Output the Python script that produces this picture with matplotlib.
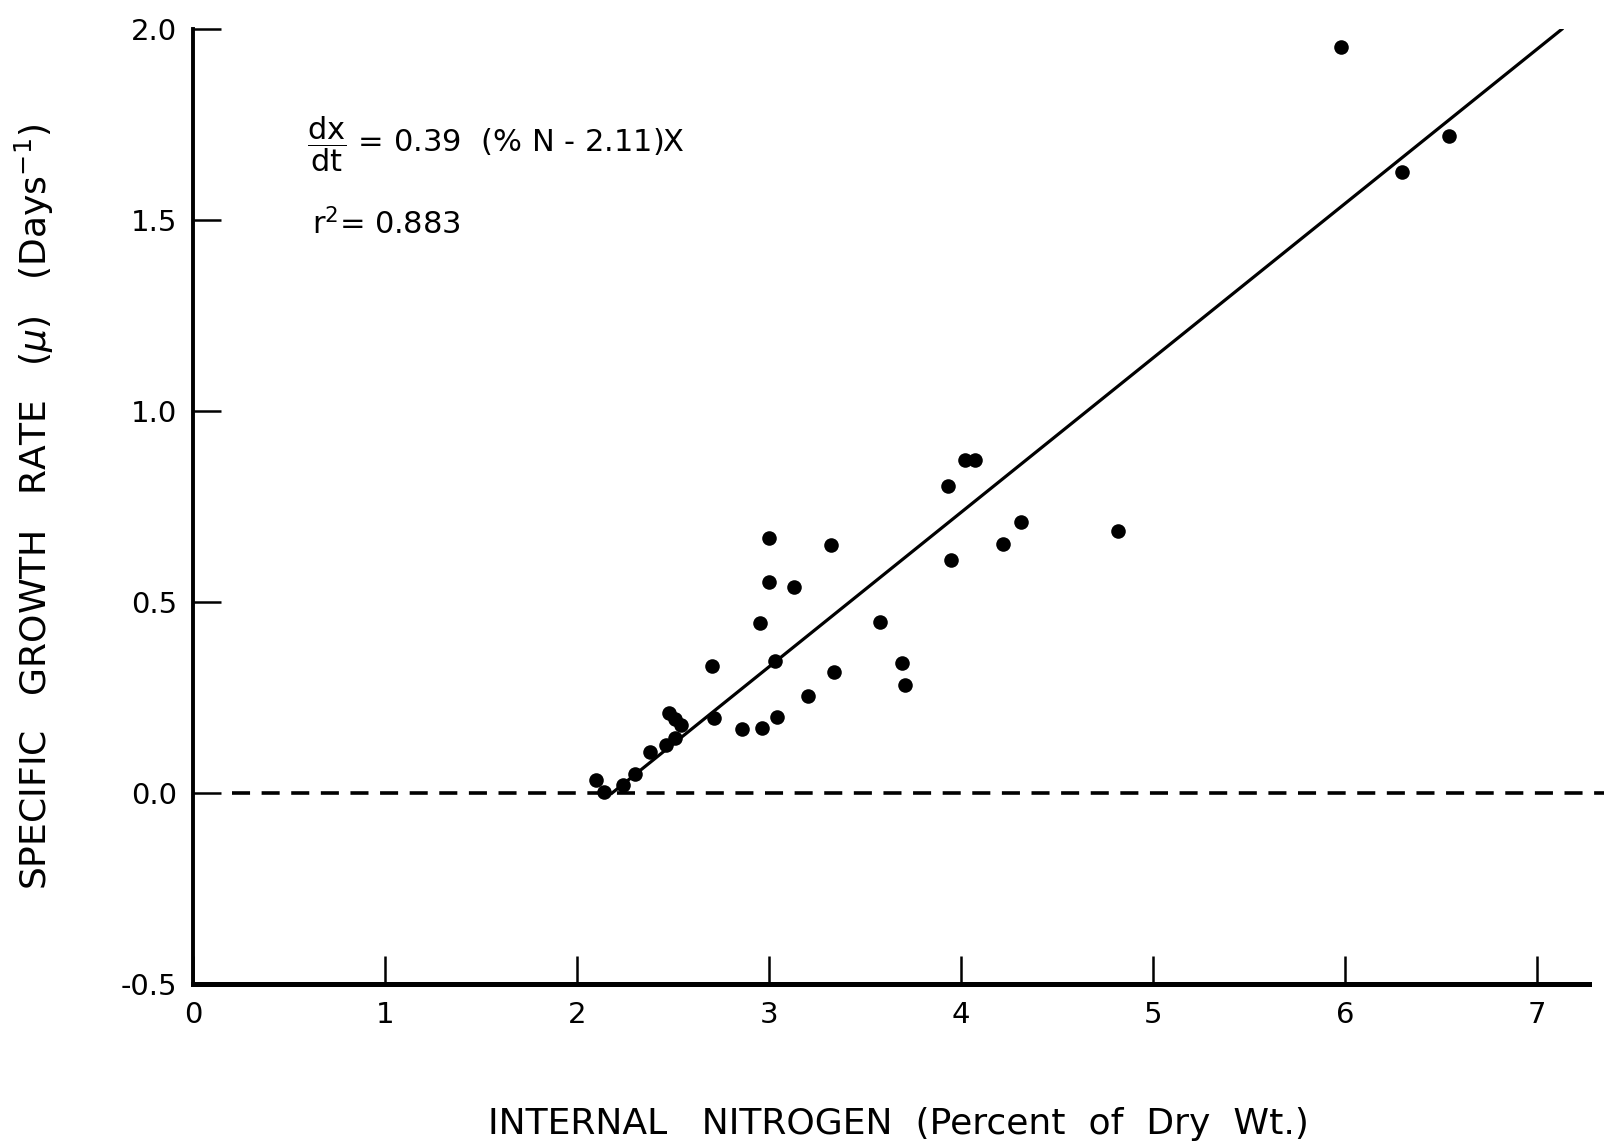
import matplotlib
matplotlib.use("Agg")
import matplotlib.pyplot as plt
import numpy as np

plt.rcParams['axes.unicode_minus'] = False

# internal nitrogen (% of dry weight) and specific growth rate (1/day)
nitrogen = [2.10, 2.14, 2.24, 2.30, 2.38, 2.46, 2.51, 2.48, 2.51, 2.54,
            2.70, 2.71, 2.86, 2.96, 3.04, 3.03, 2.95, 3.00, 3.00, 3.13,
            3.32, 3.20, 3.34, 3.58, 3.69, 3.71, 3.95, 3.93, 4.02, 4.07,
            4.31, 4.22, 4.82, 5.98, 6.30, 6.54]
growth = [0.035, 0.004, 0.022, 0.050, 0.109, 0.125, 0.144, 0.209, 0.194, 0.178,
          0.333, 0.196, 0.167, 0.170, 0.200, 0.347, 0.445, 0.552, 0.667, 0.539,
          0.650, 0.254, 0.318, 0.449, 0.342, 0.284, 0.611, 0.803, 0.873, 0.873,
          0.711, 0.653, 0.687, 1.953, 1.626, 1.721]

# fitted line, end points
fit_x = [2.18, 7.13]
fit_y = [0.0, 2.0]

x_ticks = [0, 1, 2, 3, 4, 5, 6, 7]
y_ticks = [-0.5, 0.0, 0.5, 1.0, 1.5, 2.0]
y_ticklabels = ["-0.5", "0.0", "0.5", "1.0", "1.5", "2.0"]

fig = plt.figure(figsize=(16.04, 11.47), dpi=100)
ax = fig.add_axes([0.1206, 0.1419, 0.8794, 0.8326])

ax.hlines(0, 0.2, 7.35, color="black", lw=2.6, ls=(0, (5, 3.2)), zorder=1)
ax.plot(fit_x, fit_y, color="black", lw=2.3, zorder=2)
ax.scatter(nitrogen, growth, s=110, color="black", zorder=3, linewidths=0)

ax.set_xlim(0, 7.35)
ax.set_ylim(-0.5, 2.0)

for side in ["top", "right"]:
    ax.spines[side].set_visible(False)
ax.spines["left"].set_linewidth(2.8)
ax.spines["bottom"].set_linewidth(3.6)
ax.spines["bottom"].set_bounds(0, 7.27)
ax.spines["left"].set_bounds(-0.5, 2.0)

ax.set_xticks(x_ticks)
ax.set_yticks(y_ticks)
ax.set_yticklabels(y_ticklabels)
ax.tick_params(axis="both", direction="in", length=20, width=1.8,
               labelsize=21)
ax.tick_params(axis="x", pad=12)
ax.tick_params(axis="y", pad=12)

ax.set_xlabel("INTERNAL   NITROGEN  (Percent  of  Dry  Wt.)", fontsize=26,
              labelpad=56)
ax.set_ylabel(r"SPECIFIC   GROWTH   RATE   ($\mu$)   (Days$^{-1}$)", fontsize=26,
              labelpad=46)

ax.text(0.59, 1.70, r"$\dfrac{\mathregular{dx}}{\mathregular{dt}}$ = 0.39  (% N - 2.11)X",
        fontsize=22, va="center")
ax.text(0.62, 1.49, r"r$^{2}$= 0.883", fontsize=22, va="center")

fig.savefig("out.png", dpi=100)
